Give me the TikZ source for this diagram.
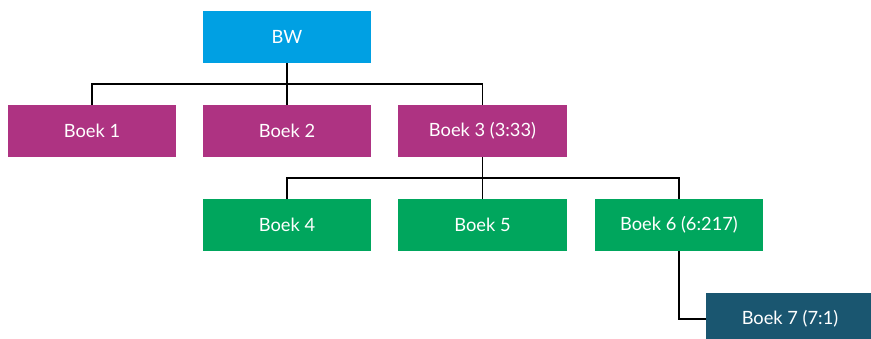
\documentclass[tikz,border=0pt]{standalone}
\usepackage{fontspec}
\setmainfont{Lato}
\usepackage{tikz}

\definecolor{bwblue}{RGB}{0,160,227}
\definecolor{boekpurple}{RGB}{174,51,130}
\definecolor{boekgreen}{RGB}{0,166,93}
\definecolor{boekteal}{RGB}{26,86,112}

\tikzset{
    boek/.style={minimum width=4.2cm, minimum height=1.3cm, inner sep=0pt,
        text=white, font=\fontsize{13}{15}\selectfont},
    tak/.style={line width=0.9pt, black}
}

\begin{document}
\begin{tikzpicture}[x=0.025cm, y=-0.025cm]
    \useasboundingbox (0,0) rectangle (871,338);

    % niveau 0
    \node[boek, fill=bwblue] (bw) at (287,37) {BW};

    % niveau 1
    \node[boek, fill=boekpurple] (b1) at (92,131) {Boek 1};
    \node[boek, fill=boekpurple] (b2) at (287,131) {Boek 2};
    \node[boek, fill=boekpurple] (b3) at (482.5,131) {Boek 3 (3:33)};

    % niveau 2
    \node[boek, fill=boekgreen] (b4) at (287,225) {Boek 4};
    \node[boek, fill=boekgreen] (b5) at (482.5,225) {Boek 5};
    \node[boek, fill=boekgreen] (b6) at (679,225) {Boek 6 (6:217)};

    % niveau 3
    \node[boek, fill=boekteal] (b7) at (790,319) {Boek 7 (7:1)};

    \coordinate (j1) at (287,84);
    \coordinate (j2) at (482.5,178);

    \draw[tak] (bw.south) -- (j1);
    \draw[tak] (j1) -| (b1.north);
    \draw[tak] (j1) -- (b2.north);
    \draw[tak] (j1) -| (b3.north);

    \draw[tak] (b3.south) -- (j2);
    \draw[tak] (j2) -| (b4.north);
    \draw[tak] (j2) -- (b5.north);
    \draw[tak] (j2) -| (b6.north);

    \draw[tak] (b6.south) |- (b7.west);
\end{tikzpicture}
\end{document}
